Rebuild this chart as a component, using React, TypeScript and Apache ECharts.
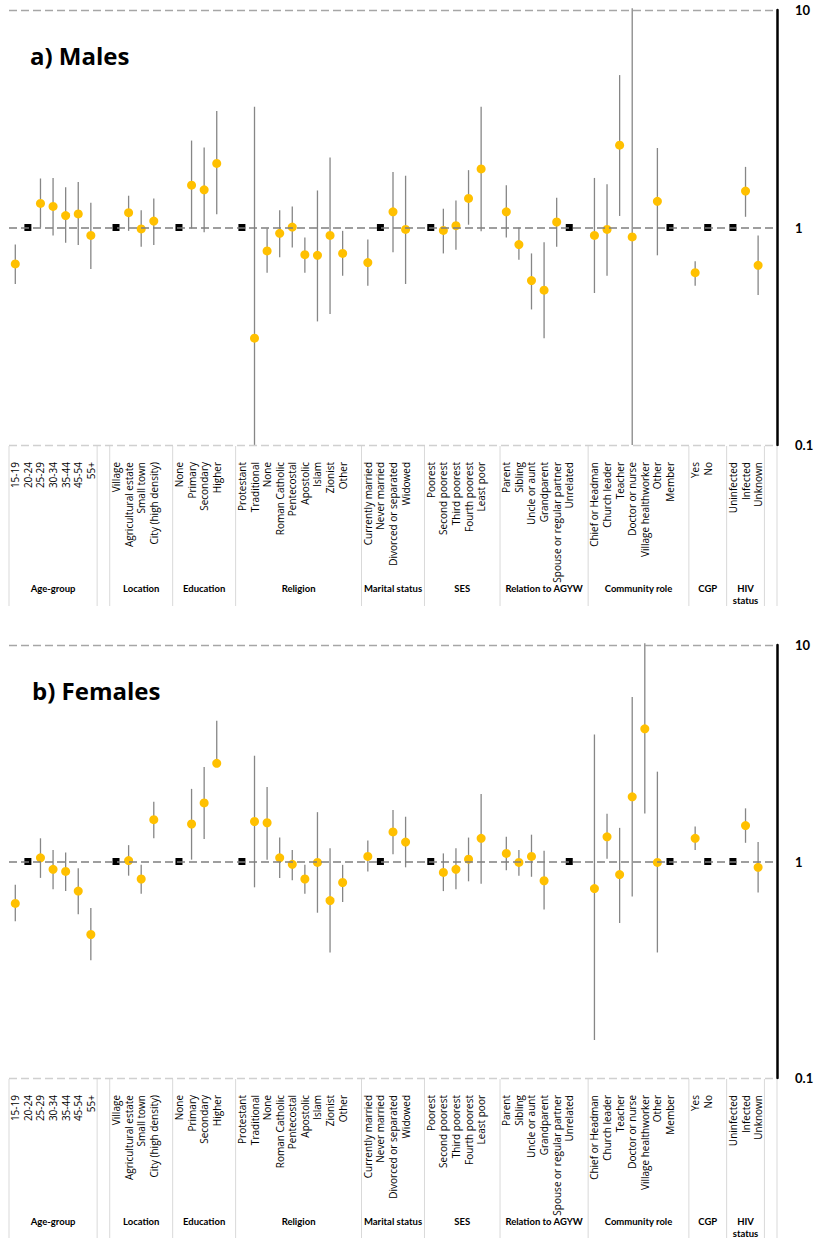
import React, { useEffect, useRef } from 'react';
import * as echarts from 'echarts';

type Est = [number, number, number]; // [odds ratio, lower CI, upper CI]
type Entry = Est | 'ref' | null;
const R: Entry = 'ref';

// ---- category labels ----
const AGE = ['15-19', '20-24', '25-29', '30-34', '35-44', '45-54', '55+'];
const LOCATION = ['Village', 'Agricultural estate', 'Small town', 'City (high density)'];
const EDUCATION = ['None', 'Primary', 'Secondary', 'Higher'];
const RELIGION = ['Protestant', 'Traditional', 'None', 'Roman Catholic', 'Pentecostal', 'Apostolic', 'Islam', 'Zionist', 'Other'];
const MARITAL = ['Currently married', 'Never married', 'Divorced or separated', 'Widowed'];
const SES = ['Poorest', 'Second poorest', 'Third poorest', 'Fourth poorest', 'Least poor'];
const RELATION = ['Parent', 'Sibling', 'Uncle or aunt', 'Grandparent', 'Spouse or regular partner', 'Unrelated'];
const COMMUNITY = ['Chief or Headman', 'Church leader', 'Teacher', 'Doctor or nurse', 'Village healthworker', 'Other', 'Member'];
const CGP = ['Yes', 'No'];
const HIV = ['Uninfected', 'Infected', 'Unknown'];

const GROUP_NAMES = ['Age-group', '', 'Location', 'Education', 'Religion', 'Marital status', 'SES', 'Relation to AGYW', 'Community role', 'CGP', 'HIV\nstatus', ''];
const GROUP_CATS: string[][] = [AGE, [], LOCATION, EDUCATION, RELIGION, MARITAL, SES, RELATION, COMMUNITY, CGP, HIV, []];
const GROUP_PAD = [0, 1, 1, 1, 1, 1, 1, 1, 1, 1, 0, 1];

// ---- males ----
const M_AGE: Entry[] = [[0.68, 0.55, 0.835], R, [1.29, 1.0, 1.68], [1.25, 0.92, 1.69], [1.135, 0.85, 1.53], [1.155, 0.83, 1.62], [0.92, 0.645, 1.3]];
const M_LOCATION: Entry[] = [R, [1.17, 0.965, 1.4], [0.985, 0.815, 1.2], [1.07, 0.83, 1.36]];
const M_EDUCATION: Entry[] = [R, [1.565, 0.99, 2.51], [1.49, 0.95, 2.33], [1.97, 1.15, 3.43]];
const M_RELIGION: Entry[] = [R, [0.31, 0.05, 3.59], [0.78, 0.62, 0.99], [0.94, 0.73, 1.2], [1.005, 0.81, 1.25], [0.75, 0.62, 0.9], [0.745, 0.37, 1.48], [0.92, 0.4, 2.1], [0.76, 0.6, 0.965]];
const M_MARITAL: Entry[] = [[0.69, 0.54, 0.88], R, [1.18, 0.77, 1.8], [0.98, 0.55, 1.73]];
const M_SES: Entry[] = [R, [0.97, 0.76, 1.22], [1.02, 0.79, 1.33], [1.36, 1.03, 1.835], [1.86, 0.96, 3.59]];
const M_RELATION: Entry[] = [[1.18, 0.9, 1.565], [0.835, 0.71, 1.0], [0.57, 0.42, 0.76], [0.515, 0.31, 0.855], [1.06, 0.815, 1.37], R];
const M_COMMUNITY: Entry[] = [[0.92, 0.5, 1.69], [0.98, 0.6, 1.58], [2.39, 1.13, 5.02], [0.905, 0.05, 20], null, [1.32, 0.745, 2.32], R];
const M_CGP: Entry[] = [[0.62, 0.54, 0.7], R];
const M_HIV: Entry[] = [R, [1.47, 1.12, 1.9], [0.67, 0.49, 0.92]];

// ---- females ----
const F_AGE: Entry[] = [[0.64, 0.53, 0.78], R, [1.04, 0.84, 1.28], [0.92, 0.745, 1.13], [0.9, 0.73, 1.1], [0.73, 0.57, 0.93], [0.46, 0.35, 0.61]];
const F_LOCATION: Entry[] = [R, [1.01, 0.86, 1.19], [0.83, 0.71, 0.965], [1.56, 1.28, 1.89]];
const F_EDUCATION: Entry[] = [R, [1.49, 1.02, 2.165], [1.865, 1.27, 2.735], [2.84, 2.84, 4.47]];
const F_RELIGION: Entry[] = [R, [1.53, 0.76, 3.08], [1.51, 1.02, 2.21], [1.04, 0.84, 1.29], [0.97, 0.82, 1.13], [0.83, 0.71, 0.965], [0.99, 0.58, 1.69], [0.66, 0.38, 1.15], [0.8, 0.65, 0.965]];
const F_MARITAL: Entry[] = [[1.055, 0.9, 1.25], R, [1.37, 1.08, 1.73], [1.23, 0.94, 1.61]];
const F_SES: Entry[] = [R, [0.89, 0.73, 1.09], [0.92, 0.745, 1.15], [1.025, 0.81, 1.29], [1.28, 0.79, 2.05]];
const F_RELATION: Entry[] = [[1.09, 0.91, 1.3], [0.99, 0.86, 1.13], [1.055, 0.85, 1.33], [0.815, 0.6, 1.12], null, R];
const F_COMMUNITY: Entry[] = [[0.75, 0.15, 3.86], [1.3, 1.03, 1.66], [0.87, 0.52, 1.43], [1.99, 0.69, 5.75], [4.1, 1.665, 10.2], [0.99, 0.38, 2.6], R];
const F_CGP: Entry[] = [[1.28, 1.13, 1.45], R];
const F_HIV: Entry[] = [R, [1.465, 1.22, 1.76], [0.94, 0.72, 1.23]];

const MALES: Entry[][] = [M_AGE, [], M_LOCATION, M_EDUCATION, M_RELIGION, M_MARITAL, M_SES, M_RELATION, M_COMMUNITY, M_CGP, M_HIV, []];
const FEMALES: Entry[][] = [F_AGE, [], F_LOCATION, F_EDUCATION, F_RELIGION, F_MARITAL, F_SES, F_RELATION, F_COMMUNITY, F_CGP, F_HIV, []];

const PANEL_TITLES = ['a) Males', 'b) Females'];
const PANEL_DATA = [MALES, FEMALES];
const Y_MIN = 0.1;
const Y_MAX = 10;
const REF_VALUE = 1;

function flatten(panel: Entry[][]) {
  const cats: string[] = [];
  const spans: number[][] = [];
  const bars: number[][] = [];
  const pts: number[][] = [];
  const refs: number[][] = [];
  GROUP_CATS.forEach((g, gi) => {
    const start = cats.length;
    g.forEach((c, ci) => {
      const idx = cats.length;
      cats.push(c);
      const e = panel[gi][ci];
      if (e === 'ref') refs.push([idx, REF_VALUE]);
      else if (e) {
        pts.push([idx, e[0]]);
        bars.push([idx, Math.max(e[1], Y_MIN), Math.min(e[2], Y_MAX * 1.02)]);
      }
    });
    for (let k = 0; k < GROUP_PAD[gi]; k++) cats.push('');
    spans.push([start, cats.length, gi, 1]);
  });
  return { cats, spans, bars, pts, refs };
}

export default function App() {
  const ref = useRef<HTMLDivElement>(null);
  useEffect(() => {
    if (!ref.current) return;
    const chart = echarts.init(ref.current, null, { renderer: 'svg' });
    const grids = [
      { left: 9, right: 37, top: 10, height: 435, outerBoundsMode: 'none' },
      { left: 9, right: 37, top: 645, height: 433, outerBoundsMode: 'none' },
    ];
    const xAxes: any[] = [];
    const yAxes: any[] = [];
    const series: any[] = [];
    PANEL_DATA.forEach((panel, p) => {
      const f = flatten(panel);
      xAxes.push({
        type: 'category', gridIndex: p, data: f.cats, boundaryGap: true,
        axisLine: { show: false, onZero: false }, axisTick: { show: false }, splitLine: { show: false },
        axisLabel: { interval: 0, rotate: 90, fontSize: 10, fontFamily: 'Open Sans', color: '#000', margin: 17 },
      });
      yAxes.push({
        type: 'log', logBase: 10, gridIndex: p, min: Y_MIN, max: Y_MAX, position: 'right',
        axisLine: { show: true, lineStyle: { color: '#000', width: 2.5 } },
        axisTick: { show: false }, splitLine: { show: false },
        axisLabel: {
          fontSize: 13, fontWeight: 'bold', fontFamily: 'Lato', color: '#000', margin: 18,
          formatter: (v: number) => (v < 0.5 ? '0.1' : String(Math.round(v))),
        },
      });
      series.push({
        type: 'scatter', xAxisIndex: p, yAxisIndex: p, data: [], z: 1, silent: true,
        markLine: {
          silent: true, symbol: 'none', label: { show: false },
          data: [
            { yAxis: Y_MAX, lineStyle: { color: '#a6a6a6', type: [8, 4], width: 1.3 } },
            { yAxis: REF_VALUE, lineStyle: { color: '#7f7f7f', type: [8, 4], width: 1.5 } },
            { yAxis: Y_MIN, lineStyle: { color: '#d0d0d0', type: [8, 4], width: 1.3 } },
          ],
        },
      });
      series.push({
        type: 'custom', xAxisIndex: p, yAxisIndex: p, z: 2, clip: false, silent: true,
        encode: { x: 0, y: [1, 2] }, data: f.bars,
        renderItem: (_params: any, api: any) => {
          const x = api.value(0);
          const a = api.coord([x, api.value(1)]);
          const b = api.coord([x, api.value(2)]);
          return { type: 'line', shape: { x1: a[0], y1: a[1], x2: b[0], y2: b[1] }, style: { stroke: '#868686', lineWidth: 1.3 } };
        },
      });
      series.push({
        type: 'scatter', xAxisIndex: p, yAxisIndex: p, z: 3, data: f.pts,
        symbol: 'circle', symbolSize: 9, itemStyle: { color: '#FFC000', opacity: 1 },
      });
      series.push({
        type: 'scatter', xAxisIndex: p, yAxisIndex: p, z: 4, data: f.refs,
        symbol: 'rect', symbolSize: 7, itemStyle: { color: '#000', opacity: 1 },
      });
      series.push({
        type: 'custom', xAxisIndex: p, yAxisIndex: p, z: 1, clip: false, silent: true,
        encode: { x: 0, y: 3 }, data: f.spans,
        renderItem: (_params: any, api: any) => {
          const s = api.value(0), e = api.value(1), gi = api.value(2);
          const p0 = api.coord([0, Y_MIN]);
          const p1 = api.coord([1, Y_MIN]);
          const bw = p1[0] - p0[0];
          const xL = p0[0] + (s - 0.5) * bw;
          const xR = p0[0] + (e - 0.5) * bw;
          const y0 = p0[1];
          const children: any[] = [
            { type: 'line', shape: { x1: xL, y1: y0 + 1, x2: xL, y2: y0 + 161 }, style: { stroke: '#d9d9d9', lineWidth: 1 } },
          ];
          if (gi === GROUP_NAMES.length - 1) {
            children.push({ type: 'line', shape: { x1: xR, y1: y0 + 1, x2: xR, y2: y0 + 161 }, style: { stroke: '#d9d9d9', lineWidth: 1 } });
          }
          if (GROUP_NAMES[gi]) {
            children.push({
              type: 'text', x: (xL + xR) / 2, y: y0 + 138,
              style: { text: GROUP_NAMES[gi], fill: '#000', fontSize: 9.5, fontWeight: 'bold', fontFamily: 'Lato', align: 'center', verticalAlign: 'top', lineHeight: 11.5 },
            });
          }
          return { type: 'group', children };
        },
      });
    });

    chart.setOption({
      animation: false,
      backgroundColor: '#fff',
      grid: grids,
      xAxis: xAxes,
      yAxis: yAxes,
      series,
      graphic: PANEL_TITLES.map((t, i) => ({
        type: 'text', x: 30 + i * 2, y: i === 0 ? 55 : 690,
        style: { text: t, fontSize: 24, fontWeight: 'bold', fontFamily: 'Open Sans', fill: '#000', verticalAlign: 'middle' },
      })),
    });
    return () => chart.dispose();
  }, []);
  return <div ref={ref} style={{ position: 'absolute', left: 0, top: 0, width: 814, height: 1238 }} />;
}
